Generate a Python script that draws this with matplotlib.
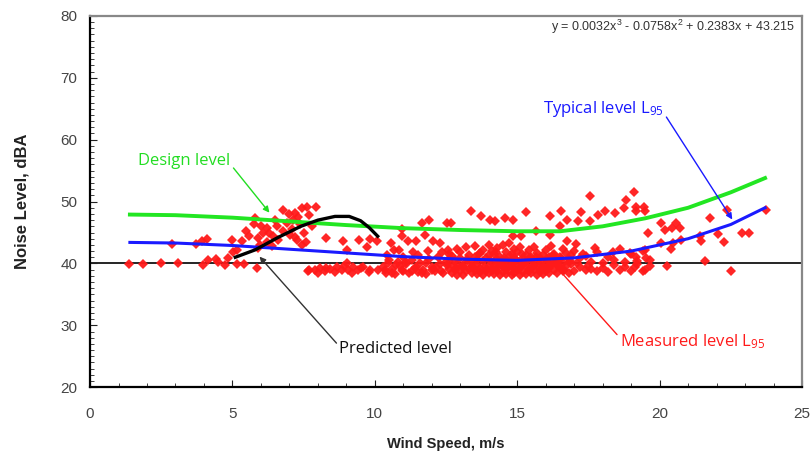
import numpy as np
import matplotlib
matplotlib.use("Agg")
import matplotlib.pyplot as plt

plt.rcParams['font.family'] = ['Liberation Sans', 'DejaVu Sans']
plt.rcParams['mathtext.default'] = 'regular'

# measured L95 points (wind speed m/s, noise dBA)
wind = [1.38, 1.85, 2.48, 3.10, 2.87, 3.72, 3.92, 4.12, 3.95, 4.15, 4.44, 4.50, 4.74, 4.85,
        4.97, 5.15, 5.03, 5.15, 5.40, 5.47, 5.32, 5.59, 5.75, 5.79, 5.85, 5.96, 6.08, 6.20,
        5.90, 6.30, 6.50, 6.60, 6.90, 7.00, 7.10, 7.20, 7.30, 7.50, 7.60, 7.70, 6.00, 5.90,
        6.20, 6.40,
        6.76, 7.19, 7.43, 7.63, 7.95, 7.13, 7.37, 6.55, 6.78, 7.02, 7.25, 7.43, 6.43, 7.78,
        8.28, 8.87, 9.03, 9.45, 9.71, 9.83, 10.08, 10.41, 10.55, 10.67, 10.85, 10.97, 10.97,
        11.17, 11.46, 11.67, 11.91, 11.75, 12.05, 12.28, 12.52, 12.37, 12.57,
        7.66, 7.90, 8.07, 8.25, 8.42, 8.66, 8.83, 9.01, 9.06, 9.24, 9.42, 9.59, 9.83,
        7.70, 8.00, 8.30, 8.60, 8.90, 9.20, 9.50, 9.80, 10.10,
        10.35, 10.47, 10.59, 10.76, 10.94, 11.11, 11.29, 11.46, 11.64, 11.81, 11.99, 12.16,
        12.34, 12.52,
        10.3, 10.4, 10.5, 10.6, 10.7, 10.8, 10.9, 11.0, 11.0, 11.1, 11.2, 11.3, 11.4, 11.5,
        11.5, 11.6, 11.7, 11.8, 11.9, 12.0, 12.1, 12.2, 12.3, 12.4, 12.5, 12.6, 12.6,
        12.7, 12.7, 12.7, 12.8, 12.8, 12.9, 12.9, 12.9, 13.0, 13.0, 13.0, 13.1, 13.1,
        13.2, 13.2, 13.2, 13.3, 13.3, 13.4, 13.4, 13.4, 13.5, 13.5, 13.5, 13.6, 13.6, 13.6,
        13.7, 13.7, 13.7, 13.8, 13.8, 13.8, 13.9, 13.9, 13.9, 14.0, 14.0, 14.0, 14.0,
        14.1, 14.1, 14.1, 14.2, 14.2, 14.2, 14.3, 14.3, 14.3, 14.3, 14.4, 14.4, 14.4,
        14.5, 14.5, 14.5, 14.6, 14.6, 14.6, 14.6, 14.7, 14.7, 14.7, 14.8, 14.8, 14.8,
        14.9, 14.9, 14.9, 14.9, 15.0, 15.0, 15.0, 15.1, 15.1, 15.1, 15.2, 15.2, 15.2,
        15.3, 15.3, 15.3, 15.4, 15.4, 15.4, 15.5, 15.5, 15.5, 15.6, 15.6, 15.6,
        15.7, 15.7, 15.7, 15.8, 15.8, 15.8, 15.9, 15.9, 15.9, 16.0, 16.0, 16.0,
        16.1, 16.1, 16.1, 16.2, 16.2, 16.2, 16.3, 16.3, 16.4, 16.4, 16.4, 16.5, 16.5,
        16.6, 16.6, 16.6, 16.7, 16.7, 16.8, 16.8, 16.9, 16.9, 17.0, 17.0, 17.2, 17.2,
        17.4, 17.4, 17.6, 17.6, 17.8, 17.8, 18.0, 18.0, 18.2, 18.2, 18.4, 18.4, 18.6, 18.6,
        18.8, 18.8, 19.0, 19.0, 19.2, 19.2, 19.4, 19.4,
        13.05, 13.25, 13.45, 13.65, 13.85, 14.05, 14.15, 14.25, 14.35, 14.45, 14.55, 14.65,
        14.75, 14.85, 14.95, 15.05, 15.15, 15.25, 15.35, 15.45, 15.55, 15.65, 15.75, 15.85,
        15.95, 16.05, 16.15, 16.25, 16.35, 16.45, 16.55, 16.65, 16.85, 17.1, 17.3, 17.5,
        12.85, 12.65, 11.85, 11.35,
        13.39, 13.71, 14.03, 14.21, 14.56, 14.85, 15.30, 16.14, 16.55, 16.75, 17.13, 17.25,
        17.54, 17.57, 17.83, 18.07, 18.42, 18.74, 18.83, 12.69, 14.85, 15.14, 15.65, 16.14,
        16.49, 16.75, 17.07, 17.72, 18.36,
        19.09, 19.16, 19.16, 19.44, 19.48, 19.59, 20.06, 20.18, 20.45, 20.59, 20.70, 20.76,
        20.47, 20.41, 20.06, 21.76, 21.41, 21.46, 22.05, 22.25, 22.37, 22.90, 23.14, 23.75,
        21.58, 22.52, 20.26, 19.65, 19.48, 19.13, 19.53, 19.18, 18.95, 19.48, 19.65]
noise = [39.9, 39.9, 40.1, 40.0, 43.2, 43.2, 43.7, 43.9, 39.8, 40.5, 40.7, 40.3, 39.8, 40.8,
         43.8, 39.9, 41.9, 42.2, 39.9, 45.2, 43.6, 44.4, 46.3, 47.3, 39.2, 43.0, 44.9, 45.7,
         44.1, 45.0, 47.0, 43.8, 46.5, 48.0, 45.5, 44.3, 47.5, 45.0, 43.5, 47.8, 46.0, 42.5,
         43.5, 42.8,
         48.7, 48.2, 49.0, 49.2, 49.2, 47.1, 46.3, 46.0, 45.2, 44.6, 43.8, 43.0, 44.4, 46.0,
         44.1, 43.6, 42.2, 43.8, 42.6, 43.9, 43.6, 41.4, 43.3, 42.2, 42.1, 45.6, 44.4,
         43.6, 43.6, 46.5, 47.1, 44.6, 43.6, 43.3, 46.5, 41.9, 42.2,
         38.7, 38.9, 39.2, 38.7, 39.1, 39.5, 38.9, 40.1, 38.9, 39.5, 38.9, 39.4, 38.9,
         38.9, 38.5, 39.3, 38.6, 39.6, 38.5, 39.2, 38.6, 39.0,
         38.9, 40.0, 38.4, 39.8, 38.9, 40.3, 38.7, 39.5, 38.4, 40.0, 38.9, 39.5,
         38.7, 39.8,
         39.4, 38.5, 40.6, 39.1, 38.3, 40.2, 39.6, 38.7, 41.0, 39.9, 38.4, 40.5, 39.2, 38.6,
         41.3, 40.1, 39.0, 38.3, 40.7, 39.4, 38.8, 41.0, 39.9, 38.5, 40.3, 39.1, 41.6,
         38.4, 39.7, 41.2, 39.0, 40.5, 38.2, 39.9, 42.4, 38.8, 40.9, 41.8, 39.4, 38.1,
         40.2, 38.7, 42.6, 39.1, 41.4, 38.5, 40.0, 39.6, 38.9, 41.0, 42.8, 38.3, 39.8, 40.6,
         39.3, 41.7, 38.6, 40.4, 38.2, 42.2, 39.0, 40.9, 38.8, 39.6, 41.3, 38.4, 43.0,
         40.1, 38.9, 42.0, 38.3, 39.5, 41.6, 40.7, 38.7, 42.5, 39.2, 38.1, 41.1, 40.0,
         39.4, 42.9, 38.6, 40.5, 38.3, 41.8, 39.1, 38.8, 40.2, 43.3, 39.7, 41.5, 38.2,
         40.8, 38.5, 42.3, 39.3, 38.9, 40.4, 41.9, 39.5, 38.2, 42.7, 40.9, 38.6, 39.9,
         38.3, 41.4, 40.3, 39.1, 42.1, 38.8, 40.6, 38.4, 41.0, 39.6, 38.9, 42.6,
         40.2, 38.1, 41.7, 39.0, 40.8, 38.6, 41.3, 39.4, 38.3, 40.0, 42.2, 38.8,
         39.2, 41.0, 38.5, 40.6, 42.8, 39.7, 38.9, 41.5, 39.8, 40.4, 38.4, 41.1, 39.3,
         38.7, 40.1, 42.4, 39.6, 41.7, 38.5, 40.7, 39.9, 41.4, 38.8, 42.0, 39.4, 40.9,
         38.9, 41.2, 40.3, 39.1, 38.7, 41.8, 40.0, 39.3, 38.6, 41.0, 39.8, 40.6, 38.9, 42.3,
         40.2, 39.4, 38.8, 41.5, 39.9, 40.4, 38.7, 42.0,
         39.6, 40.7, 39.2, 41.5, 39.5, 40.5, 39.0, 41.9, 40.1, 39.7, 40.9, 39.3,
         41.2, 39.9, 40.6, 39.1, 41.6, 40.0, 39.4, 40.8, 39.7, 41.1, 39.5, 40.3,
         39.2, 40.7, 39.8, 41.3, 40.2, 39.6, 40.9, 39.0, 40.4, 40.1, 41.6, 39.6,
         39.3, 40.8, 42.0, 41.8,
         48.4, 47.6, 47.1, 46.8, 47.3, 47.1, 48.3, 47.6, 48.4, 47.1, 46.8, 48.3,
         46.8, 50.9, 47.9, 48.4, 48.2, 49.0, 50.3, 46.5, 44.5, 44.4, 45.3, 44.6,
         46.1, 43.6, 43.2, 42.5, 41.9,
         51.5, 49.2, 48.4, 49.1, 48.4, 44.9, 46.5, 45.4, 45.7, 46.5, 45.7, 43.8,
         43.3, 42.3, 43.3, 47.3, 44.4, 43.6, 44.8, 43.4, 48.6, 44.9, 45.0, 48.7,
         40.4, 38.8, 39.6, 39.6, 38.9, 39.5, 40.8, 41.1, 41.7, 42.2, 40.6]

# design level (green)
design_x = [1.4, 3.0, 5.0, 7.0, 9.0, 11.0, 13.0, 15.0, 16.5, 18.0, 19.5, 21.0, 22.5, 23.7]
design_y = [47.9, 47.8, 47.4, 46.8, 46.2, 45.7, 45.4, 45.2, 45.2, 46.0, 47.3, 49.0, 51.5, 53.8]

# typical level L95 (blue fit)
typical_x = [1.4, 3.0, 5.0, 7.0, 9.0, 11.0, 13.0, 15.0, 17.0, 19.0, 21.0, 22.5, 23.7]
typical_y = [43.4, 43.3, 42.9, 42.3, 41.7, 41.1, 40.7, 40.5, 40.9, 42.0, 44.0, 46.3, 49.0]

# predicted level (black)
pred_x = [5.1, 5.8, 6.6, 7.4, 8.0, 8.6, 9.1, 9.5, 9.8, 10.1]
pred_y = [41.0, 42.2, 44.2, 46.0, 47.0, 47.6, 47.6, 46.9, 45.8, 44.4]

fig = plt.figure(figsize=(8.11, 4.55), dpi=100)
ax = fig.add_axes([0.111, 0.149, 0.878, 0.816])

ax.axhline(40, color='black', linewidth=1.2, zorder=1)
ax.plot(wind, noise, linestyle='none', marker='D', markersize=4.8, color='#ff1a1a',
        markeredgewidth=0, alpha=0.95, zorder=2)
ax.plot(design_x, design_y, color='#22e622', linewidth=2.8, zorder=3)
ax.plot(typical_x, typical_y, color='#1a1aff', linewidth=2.2, zorder=3)
ax.plot(pred_x, pred_y, color='black', linewidth=2.4, zorder=4)

ax.set_xlim(0, 25)
ax.set_ylim(20, 80)
ax.set_xticks(range(0, 26, 5))
ax.set_xticks(range(0, 26), minor=True)
ax.set_yticks(range(20, 81, 10))
ax.set_yticks(range(20, 81), minor=True)
ax.tick_params(axis='both', which='both', direction='in', colors='#222222',
               labelcolor='#444444', labelsize=11)
ax.tick_params(axis='x', which='major', length=5, pad=14)
ax.tick_params(axis='y', which='major', length=5, pad=9)
ax.tick_params(which='minor', length=3)

for side in ['left', 'bottom']:
    ax.spines[side].set_color('black')
    ax.spines[side].set_linewidth(1.6)
for side in ['top', 'right']:
    ax.spines[side].set_color('#888888')
    ax.spines[side].set_linewidth(1.6)

ax.set_xlabel('Wind Speed, m/s', fontsize=10.5, fontweight='bold', color='#222222', labelpad=12)
ax.set_ylabel('Noise Level, dBA', fontsize=12, fontweight='bold', color='#222222', labelpad=22)

ax.text(24.75, 78.2, 'y = 0.0032x$^{3}$ - 0.0758x$^{2}$ + 0.2383x + 43.215',
        ha='right', va='center', fontsize=9, color='#333333')

note_font = ['Open Sans', 'DejaVu Sans']
arrow = dict(arrowstyle='-|>', linewidth=1.0, mutation_scale=9, shrinkA=0, shrinkB=0)

ax.annotate('Design level', xy=(6.3, 48.2), xytext=(1.7, 56.5), color='#22dd22',
            fontsize=12, family=note_font, va='center', ha='left',
            arrowprops=dict(arrow, color='#22dd22', relpos=(1.0, 0.3)))
ax.annotate('Typical level L$_{95}$', xy=(22.55, 47.1), xytext=(15.9, 65.0), color='#1a1aff',
            fontsize=12, family=note_font, va='center', ha='left',
            arrowprops=dict(arrow, color='#1a1aff', relpos=(1.0, 0.3)))
ax.annotate('Predicted level', xy=(5.95, 41.1), xytext=(8.75, 26.1), color='#111111',
            fontsize=12, family=note_font, va='center', ha='left',
            arrowprops=dict(arrow, color='#333333', relpos=(0.0, 0.7)))
ax.annotate('Measured level L$_{95}$', xy=(16.5, 38.8), xytext=(18.6, 27.4), color='#ff1a1a',
            fontsize=12, family=note_font, va='center', ha='left',
            arrowprops=dict(arrowstyle='-', linewidth=1.0, color='#ff1a1a',
                            shrinkA=0, shrinkB=0, relpos=(0.0, 0.7)))

fig.savefig('out.png', dpi=100)
